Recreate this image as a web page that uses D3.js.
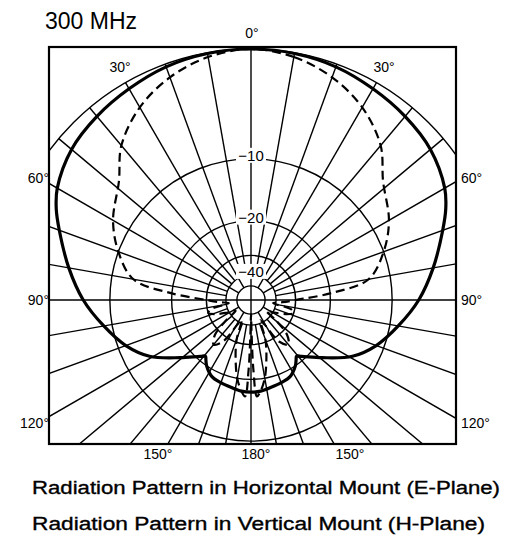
<!DOCTYPE html>
<html>
<head>
<meta charset="utf-8">
<script src="https://cdn.jsdelivr.net/npm/d3@7"></script>
<style>
  body { margin: 0; background: #fff; }
  svg { display: block; font-family: "Liberation Sans", Arial, Helvetica, sans-serif; }
</style>
</head>
<body>
<svg width="505" height="536"></svg>
<script>
// Ring levels (dB) and angle labels
const ringLevels = [-50, -40, -30, -20, -10, 0];
const ringLabels = [-10, -20, -40];
const spokeAngles = d3.range(0, 360, 10);

// E-plane (horizontal mount), solid - angle from 0° (top), one half, pattern is symmetric
const eAngles = [0, 10, 20, 30, 40, 50, 60, 65, 70, 80, 90, 100, 110, 119, 129, 138, 141, 143, 146, 153, 160, 167, 174, 180];
const eValues = [0, -0.05, -0.2, -0.5, -0.8, -1.2, -2.0, -2.7, -3.6, -5.3, -7.0, -9.0, -11.0, -13.4, -17.5, -20.8, -21.6, -21.0, -20.0, -18.6, -18.2, -17.9, -17.5, -17.4];

// H-plane (vertical mount), dashed
const hAngles = [0, 10, 20, 30, 40, 48, 60, 70, 80, 85, 90, 94, 98, 103, 107, 112, 118, 125, 129, 134, 140, 146, 151, 155, 160, 165, 170, 174, 176.5, 178, 179, 180];
const hValues = [0, -0.3, -1.0, -2.1, -3.8, -6.0, -7.9, -10.0, -12.9, -19.6, -30.0, -36, -42, -31.5, -30, -33, -39, -45, -36, -28, -25.4, -28, -38, -42, -31, -25, -20, -17.5, -16.6, -22, -35, -50];

const svg = d3.select('svg');
const cx = 251, cy = 300, R = 251;
const box = { x0: 49, y0: 47, x1: 456, y1: 444 };

// radius: r = R * 10^(dB/40)  => sqrt of voltage ratio
const rScale = d3.scaleSqrt().domain([0, 1]).range([0, R]);
const r = dB => rScale(Math.pow(10, dB / 20));
const rad = a => a * Math.PI / 180;

svg.append('clipPath').attr('id', 'boxclip')
    .append('rect')
    .attr('x', box.x0).attr('y', box.y0)
    .attr('width', box.x1 - box.x0).attr('height', box.y1 - box.y0);

const plot = svg.append('g').attr('clip-path', 'url(#boxclip)')
    .append('g').attr('transform', `translate(${cx},${cy})`);

// spokes
const spokeStart = d => d % 90 === 0 ? 0 : d % 30 === 0 ? r(-50) : r(-40);
plot.selectAll('line.spoke')
    .data(spokeAngles)
    .enter().append('line')
    .attr('class', 'spoke')
    .attr('x1', d => spokeStart(d) * Math.sin(rad(d)))
    .attr('y1', d => -spokeStart(d) * Math.cos(rad(d)))
    .attr('x2', d => R * Math.sin(rad(d)))
    .attr('y2', d => -R * Math.cos(rad(d)))
    .attr('stroke', '#000')
    .attr('stroke-width', 1.4);

// rings
plot.selectAll('circle.ring')
    .data(ringLevels)
    .enter().append('circle')
    .attr('class', 'ring')
    .attr('r', d => r(d))
    .attr('fill', 'none')
    .attr('stroke', '#000')
    .attr('stroke-width', 1.4);

// ring labels with white knockout
const lab = plot.selectAll('g.rlab')
    .data(ringLabels)
    .enter().append('g')
    .attr('class', 'rlab')
    .attr('transform', d => `translate(0,${-r(d) - 3})`);
lab.append('rect')
    .attr('x', -15).attr('y', -8).attr('width', 30).attr('height', 15)
    .attr('fill', '#fff');
lab.append('text')
    .attr('text-anchor', 'middle')
    .attr('dy', '0.36em')
    .attr('font-size', 15)
    .text(d => '\u2212' + Math.abs(d));

// pattern curves
function loop(angles, values) {
    const right = angles.map((a, i) => [rad(a), r(values[i])]);
    const left = angles.slice(1, -1).reverse().map(a => [rad(360 - a), r(values[angles.indexOf(a)])]);
    return right.concat(left);
}
const radial = d3.lineRadial().curve(d3.curveCatmullRomClosed.alpha(0.5));

plot.append('path')
    .attr('d', radial(loop(hAngles, hValues)))
    .attr('fill', 'none')
    .attr('stroke', '#000')
    .attr('stroke-width', 2.2)
    .attr('stroke-dasharray', '9,5');

plot.append('path')
    .attr('d', radial(loop(eAngles, eValues)))
    .attr('fill', 'none')
    .attr('stroke', '#000')
    .attr('stroke-width', 3.2);

// frame
svg.append('rect')
    .attr('x', box.x0).attr('y', box.y0)
    .attr('width', box.x1 - box.x0).attr('height', box.y1 - box.y0)
    .attr('fill', 'none')
    .attr('stroke', '#000')
    .attr('stroke-width', 2.2);

// angle labels
const angLabels = [
    { t: '0°', x: 252, y: 38, a: 'middle' },
    { t: '30°', x: 120, y: 72, a: 'middle' },
    { t: '30°', x: 384, y: 72, a: 'middle' },
    { t: '60°', x: 49, y: 183, a: 'end' },
    { t: '60°', x: 461, y: 183, a: 'start' },
    { t: '90°', x: 49, y: 305, a: 'end' },
    { t: '90°', x: 461, y: 305, a: 'start' },
    { t: '120°', x: 49, y: 428, a: 'end' },
    { t: '120°', x: 461, y: 428, a: 'start' },
    { t: '150°', x: 158, y: 459, a: 'middle' },
    { t: '180°', x: 256, y: 459, a: 'middle' },
    { t: '150°', x: 350, y: 459, a: 'middle' }
];
svg.selectAll('text.ang')
    .data(angLabels)
    .enter().append('text')
    .attr('class', 'ang')
    .attr('x', d => d.x).attr('y', d => d.y)
    .attr('text-anchor', d => d.a)
    .attr('font-size', 14)
    .text(d => d.t);

svg.append('text')
    .attr('x', 45).attr('y', 29)
    .attr('font-size', 23)
    .text('300 MHz');

svg.selectAll('text.legend')
    .data([
        { t: 'Radiation Pattern in Horizontal Mount (E-Plane)', y: 494, w: 468 },
        { t: 'Radiation Pattern in Vertical Mount (H-Plane)', y: 530, w: 453 }
    ])
    .enter().append('text')
    .attr('class', 'legend')
    .attr('x', 32).attr('y', d => d.y)
    .attr('font-size', 18)
    .attr('textLength', d => d.w)
    .attr('lengthAdjust', 'spacingAndGlyphs')
    .attr('stroke', '#000')
    .attr('stroke-width', 0.35)
    .text(d => d.t);
</script>
</body>
</html>
